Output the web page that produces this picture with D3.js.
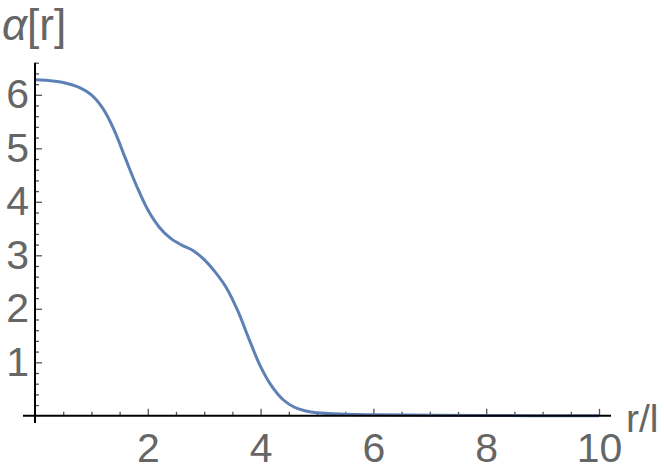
<!DOCTYPE html>
<html>
<head>
<meta charset="utf-8">
<script src="https://cdn.jsdelivr.net/npm/d3@7"></script>
<style>
body { margin: 0; background: #fff; }
svg { display: block; }
text { font-family: "Liberation Sans", Arial, sans-serif; fill: #666; }
</style>
</head>
<body>
<svg id="chart" width="664" height="474"></svg>
<script>
/*
data
*/
var r_vals = [0, 0.3, 0.5, 0.8, 1.0, 1.2, 1.4, 1.6, 1.8, 2.0, 2.2, 2.4, 2.6, 2.8, 3.0, 3.2, 3.4, 3.6, 3.8, 4.0, 4.2, 4.4, 4.6, 4.8, 5.0, 5.5, 6, 7, 8, 9, 10];
var alpha_vals = [6.28, 6.26, 6.23, 6.13, 6.00, 5.75, 5.35, 4.82, 4.30, 3.85, 3.53, 3.32, 3.19, 3.09, 2.92, 2.68, 2.38, 1.95, 1.42, 0.92, 0.55, 0.30, 0.16, 0.09, 0.055, 0.03, 0.02, 0.01, 0.005, 0.003, 0.002];
var x_major = [2, 4, 6, 8, 10];
var y_major = [1, 2, 3, 4, 5, 6];
var x_minor = d3.range(0.5, 10.01, 0.5).filter(function(v){ return x_major.indexOf(Math.round(v*10)/10) < 0; });
var y_minor = d3.range(0.2, 6.61, 0.2).map(function(v){ return Math.round(v*10)/10; })
    .filter(function(v){ return y_major.indexOf(v) < 0; });

var svg = d3.select("#chart");
var x = d3.scaleLinear().domain([0, 10]).range([35, 599]);
var y = d3.scaleLinear().domain([0, 6]).range([415.8, 94.8]);
var font_size = 41;

// x axis: minor ticks, then major ticks with labels
svg.append("g").attr("transform", "translate(0," + y(0) + ")")
    .call(d3.axisBottom(x).tickValues(x_minor).tickSize(-4).tickFormat(""))
    .call(function(g){ g.select(".domain").remove(); });
var gx = svg.append("g").attr("transform", "translate(0," + y(0) + ")")
    .call(d3.axisBottom(x).tickValues(x_major).tickSize(-7).tickPadding(17).tickFormat(d3.format("d")));
gx.select(".domain").remove();

// y axis
svg.append("g").attr("transform", "translate(" + x(0) + ",0)")
    .call(d3.axisLeft(y).tickValues(y_minor).tickSize(-4).tickFormat(""))
    .call(function(g){ g.select(".domain").remove(); });
var gy = svg.append("g").attr("transform", "translate(" + x(0) + ",0)")
    .call(d3.axisLeft(y).tickValues(y_major).tickSize(-7).tickPadding(6).tickFormat(d3.format("d")));
gy.select(".domain").remove();

svg.selectAll(".tick line").attr("stroke", "#555").attr("stroke-width", 1.3);
svg.selectAll(".tick text").attr("font-size", font_size).attr("fill", "#666")
    .attr("font-family", "Liberation Sans, Arial, sans-serif");

// curve
var line = d3.line()
    .x(function(d, i){ return x(r_vals[i]); })
    .y(function(d){ return y(d); })
    .curve(d3.curveCatmullRom.alpha(0.5));
svg.append("path")
    .datum(alpha_vals)
    .attr("d", line)
    .attr("fill", "none")
    .attr("stroke", "#5E81B5")
    .attr("stroke-width", 3)
    .attr("stroke-linejoin", "round");

// axis lines
svg.append("line")
    .attr("x1", 23).attr("x2", 611)
    .attr("y1", y(0)).attr("y2", y(0))
    .attr("stroke", "#000").attr("stroke-width", 2);
svg.append("line")
    .attr("x1", x(0)).attr("x2", x(0))
    .attr("y1", y(6.6)).attr("y2", 423)
    .attr("stroke", "#000").attr("stroke-width", 2);

// axis labels
svg.append("text").attr("x", 2).attr("y", 40)
    .attr("font-size", 44)
    .html("<tspan font-style='italic'>α</tspan>[r]");
svg.append("text").attr("x", 626).attr("y", 432)
    .attr("font-size", 39)
    .text("r/l");
</script>
</body>
</html>
